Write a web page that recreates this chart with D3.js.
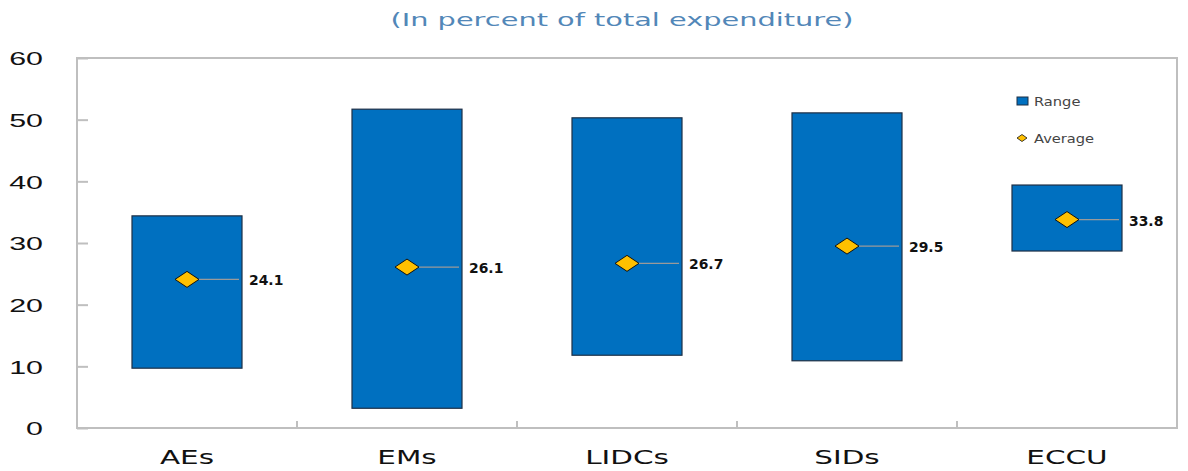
<!DOCTYPE html>
<html>
<head>
<meta charset="utf-8">
<script src="https://cdn.jsdelivr.net/npm/d3@7"></script>
<style>
  body { margin: 0; background: #fff; }
  svg { display: block; font-family: "DejaVu Sans", "Open Sans", sans-serif; }
</style>
</head>
<body>
<svg id="chart" width="1188" height="471"></svg>
<script>
/* ---------- data ---------- */
const groups = ["AEs", "EMs", "LIDCs", "SIDs", "ECCU"];
const rangeLow = [9.7, 3.2, 11.8, 10.9, 28.7];
const rangeHigh = [34.4, 51.7, 50.3, 51.1, 39.4];
const average = [24.1, 26.1, 26.7, 29.5, 33.8];
const yTicks = [0, 10, 20, 30, 40, 50, 60];

/* ---------- layout ---------- */
const svg = d3.select("#chart");
const margin = { top: 58, right: 11, bottom: 43, left: 77 };
const W = 1188 - margin.left - margin.right;
const H = 471 - margin.top - margin.bottom;
const grid = "#bfbfbf";

const x = d3.scaleBand().domain(groups).range([0, W]).paddingInner(0).paddingOuter(0);
const y = d3.scaleLinear().domain([0, 60]).range([H, 0]);

// the source font is much wider than anything installed, so stretch the glyphs
function widen(sel, k) {
  sel.attr("textLength", function () { return this.getComputedTextLength() * k; })
    .attr("lengthAdjust", "spacingAndGlyphs");
}

svg.append("text")
  .attr("x", 622).attr("y", 26)
  .attr("text-anchor", "middle")
  .style("font-size", "18px")
  .attr("fill", "#5287b8")
  .text("(In percent of total expenditure)")
  .call(widen, 1.6);

const g = svg.append("g").attr("transform", `translate(${margin.left},${margin.top})`);

// frame
g.append("rect").attr("width", W).attr("height", H)
  .attr("fill", "none").attr("stroke", grid).attr("stroke-width", 2);

// y axis: ticks pointing inward
const yAxis = g.append("g").call(d3.axisLeft(y).tickValues(yTicks).tickSize(-11).tickPadding(34));
yAxis.select(".domain").remove();
yAxis.selectAll("line").attr("stroke", grid).attr("stroke-width", 2);
yAxis.selectAll("text")
  .style("font-size", "19px").attr("fill", "#111")
  .attr("text-anchor", "end").attr("dy", "0.36em")
  .call(widen, 1.6);

// x axis: boundary ticks, labels centred
const xAxis = g.append("g").attr("transform", `translate(0,${H})`);
xAxis.selectAll("line.sep")
  .data(groups.slice(1))
  .join("line")
  .attr("class", "sep")
  .attr("x1", d => x(d)).attr("x2", d => x(d))
  .attr("y1", 0).attr("y2", -7)
  .attr("stroke", grid).attr("stroke-width", 2);
xAxis.selectAll("text")
  .data(groups)
  .join("text")
  .attr("x", d => x(d) + x.bandwidth() / 2)
  .attr("y", 36)
  .attr("text-anchor", "middle")
  .style("font-size", "19px").attr("fill", "#111")
  .text(d => d)
  .call(widen, 1.55);

/* ---------- bars ---------- */
const barW = x.bandwidth() / 2;
g.selectAll("rect.range")
  .data(groups)
  .join("rect")
  .attr("class", "range")
  .attr("x", d => x(d) + (x.bandwidth() - barW) / 2)
  .attr("width", barW)
  .attr("y", (d, i) => y(rangeHigh[i]))
  .attr("height", (d, i) => y(rangeLow[i]) - y(rangeHigh[i]))
  .attr("fill", "#0070c0")
  .attr("stroke", "#1d2f45").attr("stroke-width", 1.2);

/* ---------- averages ---------- */
const avg = g.selectAll("g.avg")
  .data(groups)
  .join("g")
  .attr("class", "avg")
  .attr("transform", (d, i) => `translate(${x(d) + x.bandwidth() / 2},${y(average[i])})`);

avg.append("line")
  .attr("x1", 0).attr("x2", barW / 2 - 3)
  .attr("stroke", "#9a9a9a").attr("stroke-width", 1.2);
avg.append("path")
  .attr("d", "M-12,0L0,-8L12,0L0,8Z")
  .attr("fill", "#ffc000").attr("stroke", "#111").attr("stroke-width", 1);
avg.append("text")
  .attr("x", barW / 2 + 7).attr("y", 6)
  .style("font-size", "13.5px").style("font-weight", "bold")
  .attr("fill", "#111")
  .text((d, i) => average[i].toFixed(1))
  .call(widen, 1.03);

/* ---------- legend ---------- */
const lg = svg.append("g").attr("transform", "translate(1017,101)");
lg.append("rect").attr("x", 0).attr("y", -4).attr("width", 11).attr("height", 8)
  .attr("fill", "#0070c0").attr("stroke", "#1d2f45");
lg.append("text").attr("x", 17).attr("y", 4.5).style("font-size", "12px")
  .attr("fill", "#444").text("Range").call(widen, 1.22);
lg.append("path").attr("d", "M0,37L5,33.5L10,37L5,40.5Z")
  .attr("fill", "#ffc000").attr("stroke", "#111").attr("stroke-width", 0.8);
lg.append("text").attr("x", 17).attr("y", 41.5).style("font-size", "12px")
  .attr("fill", "#444").text("Average").call(widen, 1.22);
</script>
</body>
</html>
